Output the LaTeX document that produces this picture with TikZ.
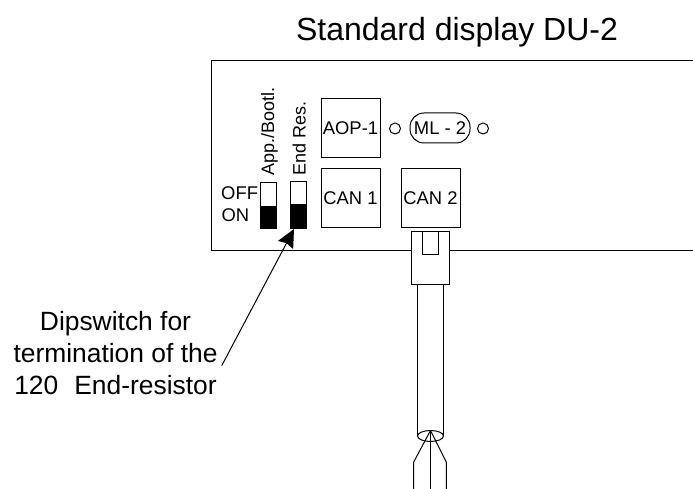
\documentclass[tikz,border=0pt]{standalone}
\usepackage{fontspec}
\setmainfont{Liberation Sans}
\usetikzlibrary{arrows.meta}
\tikzset{
    portbox/.style={draw, minimum width=59pt, minimum height=59pt, inner sep=0pt, font=\fontsize{18.4}{20}\selectfont},
    switchbox/.style={draw, minimum width=16pt, minimum height=46pt, inner sep=0pt},
    smalltext/.style={inner sep=0pt, font=\fontsize{18.4}{20}\selectfont},
    sidetext/.style={inner sep=0pt, rotate=90, anchor=base west, font=\fontsize{18}{20}\selectfont},
    bigtext/.style={inner sep=0pt, align=center, font=\fontsize{26.4}{31.7}\selectfont},
    led/.style={draw, circle, minimum size=11pt, inner sep=0pt}
}
\begin{document}
\begin{tikzpicture}[x=1pt, y=-1pt, line width=1pt]
    \useasboundingbox (0,0) rectangle (693,489);

    \node[inner sep=0pt, anchor=base, font=\fontsize{32}{36}\selectfont] (title) at (457,41) {Standard display DU-2};

    % front panel, open on the right
    \draw (693,61) -- (211,61) -- (211,250) -- (412,250);
    \draw (449,250) -- (693,250);

    \node[portbox] (aop) at (350.5,128.5) {AOP-1};
    \node[portbox] (can1) at (350.5,198) {CAN 1};
    \node[portbox] (can2) at (430.5,198) {CAN 2};

    \node[led] (ledleft) at (395,128.5) {};
    \node[draw, rounded corners=14pt, minimum width=60pt, minimum height=30pt, inner sep=0pt, font=\fontsize{18.4}{20}\selectfont] (ml) at (440,128) {ML - 2};
    \node[led] (ledright) at (483,128.5) {};

    % dipswitches
    \node[switchbox] (appsw) at (268,205.5) {};
    \node[switchbox] (endsw) at (298,205) {};
    \fill (260,206) rectangle (276,229);
    \fill (290,204) rectangle (306,228);

    \node[sidetext] (applabel) at (274,176) {App./Bootl.};
    \node[sidetext] (endlabel) at (305.7,176) {End Res.};
    \node[smalltext, anchor=base east] (off) at (258.5,200) {OFF};
    \node[smalltext, anchor=base west] (on) at (221,222) {ON};

    % plug and cable
    \node[draw, minimum width=37.5pt, minimum height=53pt, inner sep=0pt] (plug) at (430.5,257.5) {};
    \draw (422.7,231) -- (422.7,254) -- (438.3,254) -- (438.3,231);
    \draw (417.3,284) -- (417.3,436);
    \draw (443.7,284) -- (443.7,436);
    \draw (430.5,436) ellipse (13pt and 5.5pt);

    \coordinate (apex) at (430.5,430.5);
    \draw (apex) -- (413.7,462) -- (413.7,489);
    \draw (apex) -- (430.5,489);
    \draw (apex) -- (446.3,462) -- (446.3,489);

    \node[bigtext] (dip) at (115.5,353) {Dipswitch for\\termination of the\\120\hspace{16pt}End-resistor};

    \coordinate (arrowstart) at (221.7,365.7);
    \coordinate (arrowtip) at (294,229);
    \draw[-{Stealth[length=18pt,width=17pt,inset=2pt]}] (arrowstart) -- (arrowtip);
\end{tikzpicture}
\end{document}
